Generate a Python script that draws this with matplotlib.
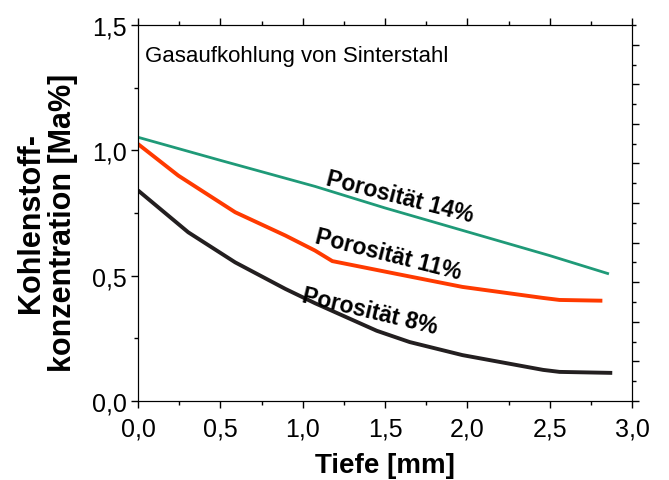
import matplotlib
matplotlib.use('Agg')
import matplotlib.pyplot as plt
from matplotlib.ticker import MultipleLocator, FuncFormatter

plt.rcParams['font.family'] = ['Liberation Sans', 'DejaVu Sans']

# Tiefe [mm] und Kohlenstoffkonzentration [Ma%]
tiefe_14 = [0.0, 0.5, 1.075, 1.5, 2.0, 2.5, 2.86]
c_14 = [1.052, 0.96, 0.856, 0.770, 0.675, 0.580, 0.507]

tiefe_11 = [0.0, 0.245, 0.59, 0.895, 1.075, 1.18, 1.57, 1.97, 2.46, 2.56, 2.82]
c_11 = [1.025, 0.899, 0.753, 0.66, 0.60, 0.558, 0.507, 0.455, 0.411, 0.403, 0.40]

tiefe_8 = [0.0, 0.305, 0.59, 0.895, 1.075, 1.45, 1.65, 1.97, 2.46, 2.56, 2.88]
c_8 = [0.84, 0.673, 0.553, 0.447, 0.39, 0.28, 0.235, 0.183, 0.124, 0.116, 0.112]

labels = ['Porosität 14%', 'Porosität 11%', 'Porosität 8%']


def komma(v, pos):
    return f'{v:.1f}'.replace('.', ',')


fig = plt.figure(figsize=(6.69, 4.81), dpi=100)
ax = fig.add_axes([0.2063, 0.1643, 0.7384, 0.7817])

ax.plot(tiefe_14, c_14, color='#1f9a78', lw=2.0, solid_capstyle='butt')
ax.plot(tiefe_11, c_11, color='#ff3a00', lw=2.8, solid_capstyle='butt')
ax.plot(tiefe_8, c_8, color='#231f20', lw=2.8, solid_capstyle='butt')

ax.set_xlim(0, 3)
ax.set_ylim(0, 1.5)
ax.xaxis.set_major_locator(MultipleLocator(0.5))
ax.xaxis.set_minor_locator(MultipleLocator(0.25))
ax.yaxis.set_major_locator(MultipleLocator(0.5))
ax.yaxis.set_minor_locator(MultipleLocator(0.25))
ax.xaxis.set_major_formatter(FuncFormatter(komma))
ax.yaxis.set_major_formatter(FuncFormatter(komma))
ax.tick_params(which='both', direction='out', top=True, right=False,
               labelsize=18, width=1.0, pad=3)
ax.tick_params(axis='x', which='major', pad=6.5)
ax.tick_params(which='major', length=5)
ax.tick_params(which='minor', length=3)

# rechte Achse mit eigener Teilung, ohne Beschriftung
ax2 = ax.twinx()
ax2.set_ylim(0, 9.5)
ax2.yaxis.set_major_locator(MultipleLocator(1))
ax2.yaxis.set_minor_locator(MultipleLocator(0.5))
ax2.tick_params(which='both', direction='out', labelright=False, width=1.0)
ax2.tick_params(which='major', length=5)
ax2.tick_params(which='minor', length=3)

ax.set_xlabel('Tiefe [mm]', fontsize=20, fontweight='bold', labelpad=8)
ax.set_ylabel('Kohlenstoff-\nkonzentration [Ma%]', fontsize=22,
              fontweight='bold', linespacing=1.1)
ax.yaxis.set_label_coords(-0.121, 0.476)

ax.text(0.015, 0.905, 'Gasaufkohlung von Sinterstahl', transform=ax.transAxes,
        fontsize=16, ha='left', va='baseline')

ax.text(1.59, 0.815, labels[0], fontsize=16.5, fontweight='bold',
        rotation=-14.4, rotation_mode='anchor', ha='center', va='center')
ax.text(1.52, 0.585, labels[1], fontsize=16.5, fontweight='bold',
        rotation=-14.2, rotation_mode='anchor', ha='center', va='center')
ax.text(1.41, 0.36, labels[2], fontsize=16.5, fontweight='bold',
        rotation=-13.5, rotation_mode='anchor', ha='center', va='center')

fig.savefig('out.png', dpi=100)
